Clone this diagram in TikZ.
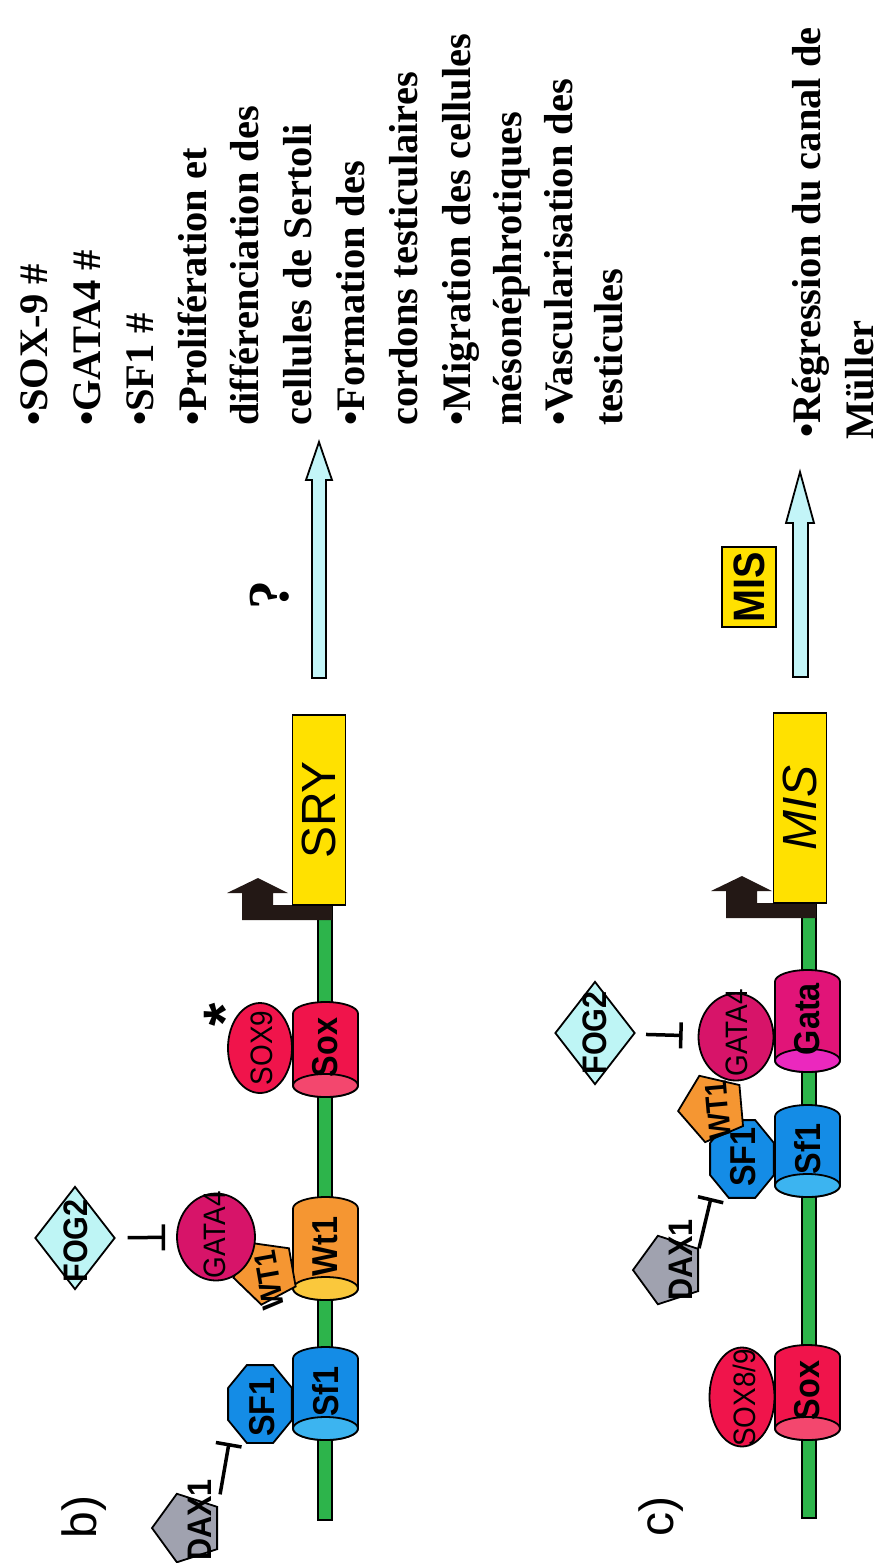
\documentclass[tikz,border=0pt]{standalone}
\usepackage{fontspec}
\setmainfont{Liberation Serif}
\newfontfamily\protfont[FakeStretch=0.9]{Liberation Sans}
\newfontfamily\genefont{Liberation Sans}
\usepackage{xcolor}
\definecolor{dnagreen}{HTML}{2DB44B}
\definecolor{sfblue}{HTML}{148CE6}
\definecolor{sfface}{HTML}{3CB4F0}
\definecolor{wtorange}{HTML}{F59632}
\definecolor{wtface}{HTML}{FAC83C}
\definecolor{soxred}{HTML}{F0144B}
\definecolor{soxface}{HTML}{F3476E}
\definecolor{gatamag}{HTML}{E11478}
\definecolor{gataface}{HTML}{EB28BE}
\definecolor{gatapink}{HTML}{D71469}
\definecolor{daxgrey}{HTML}{A0A2AF}
\definecolor{fogcyan}{HTML}{BEF5F5}
\definecolor{arrowcyan}{HTML}{C3F5F8}
\definecolor{geneyellow}{HTML}{FFE100}
\definecolor{promdark}{HTML}{231815}
\usepackage{tikz}
\usetikzlibrary{shapes.geometric,arrows.meta}

% binding site on the DNA: name, x, top, bottom, body, face, label
\newcommand{\cylsite}[7]{%
  \filldraw[outl, fill=#5] (#2-32.5,#3+11.5) -- (#2-32.5,#4-11.5)
    arc[start angle=180, end angle=0, x radius=32.5, y radius=11.5]
    -- (#2+32.5,#3+11.5)
    arc[start angle=0, end angle=-180, x radius=32.5, y radius=11.5] -- cycle;
  \filldraw[outl, fill=#6] (#2,#4-11.5) ellipse[x radius=32.5, y radius=11.5];
  \node[plbl] (#1) at (#2,{(#3+#4)/2-2}) {#7};}

\begin{document}
\begin{tikzpicture}[x=1pt, y=-1pt,
    every node/.style={rotate=90},
    outl/.style={draw=black, line width=1.8pt},
    prot/.style={outl, inner sep=0pt},
    octa/.style={prot, regular polygon, regular polygon sides=8,
      minimum size=69pt, xscale=1.22, fill=sfblue},
    penta/.style={prot, regular polygon, regular polygon sides=5},
    plbl/.style={inner sep=0pt, font=\protfont\bfseries\fontsize{36}{36}\selectfont},
    tag/.style={inner sep=0pt, font=\protfont\bfseries\fontsize{34}{34}\selectfont},
    small/.style={inner sep=0pt, font=\protfont\bfseries\fontsize{31}{31}\selectfont},
    pthin/.style={inner sep=0pt, font=\protfont\fontsize{31}{31}\selectfont},
    genebox/.style={outl, rectangle, fill=geneyellow, minimum width=190pt,
      minimum height=53pt, inner sep=0pt, font=\genefont\fontsize{48}{48}\selectfont},
    effect/.style={anchor=base west, inner sep=0pt,
      font=\bfseries\fontsize{40.5}{48}\selectfont},
    inhibit/.style={line width=3.5pt, -{Bar[width=26pt]}},
    panel/.style={inner sep=0pt, font=\genefont\fontsize{48}{48}\selectfont}]

  \fill[white] (0,0) rectangle (880,1563);
  \useasboundingbox (0,0) rectangle (880,1563);

  % DNA strands
  \filldraw[outl, fill=dnagreen] (318,905) rectangle (332,1520);
  \filldraw[outl, fill=dnagreen] (802,903) rectangle (816,1518);

  % transcription start
  \foreach \xd/\yd in {325/0, 809/-2}
    \fill[promdark, shift={(\xd,\yd)}] (7,920) -- (-83,920) -- (-83,893) -- (-98,893)
      -- (-67,878) -- (-37,893) -- (-52,893) -- (-52,905) -- (7,905) -- cycle;

  % genes
  \node[genebox] (sry) at (319,810) {SRY};
  \node[genebox] (mis) at (800,808) {\itshape MIS};

  % binding sites
  \cylsite{sfsiteB}{325.5}{1347}{1440}{sfblue}{sfface}{Sf1}
  \cylsite{wtsiteB}{325.5}{1197}{1300}{wtorange}{wtface}{Wt1}
  \cylsite{soxsiteB}{325.5}{1002}{1097}{soxred}{soxface}{Sox}
  \cylsite{soxsiteC}{807.5}{1345}{1440}{soxred}{soxface}{Sox}
  \cylsite{sfsiteC}{807.5}{1105}{1197}{sfblue}{sfface}{Sf1}
  \cylsite{gatasiteC}{807.5}{970}{1072}{gatamag}{gataface}{Gata}

  % b) factors
  \node[panel] (panB) at (84,1517) {b)};
  \node[octa] (sfB) at (260,1404) {};
  \node[plbl] (sfBl) at (262,1407) {SF1};
  \node[penta, minimum size=66pt, rotate=10, fill=wtorange] (wtB) at (266,1272) {};
  \node[small, rotate=10] (wtBl) at (269,1280) {WT1};
  \node[prot, ellipse, minimum width=87pt, minimum height=78pt, fill=gatapink] (gataB) at (216,1237) {};
  \node[pthin] (gataBl) at (215,1235) {GATA4};
  \node[prot, ellipse, minimum width=90pt, minimum height=64pt, fill=soxred] (soxB) at (260,1048) {};
  \node[pthin] (soxBl) at (262,1048) {SOX9};
  \node[inner sep=0pt, font=\genefont\bfseries\fontsize{60}{60}\selectfont] (star) at (225,1015) {*};
  \node[penta, minimum size=72pt, fill=daxgrey] (daxB) at (188,1528) {};
  \node[tag] (daxBl) at (200,1520) {DAX1};
  \node[prot, diamond, minimum width=103pt, minimum height=80pt, fill=fogcyan] (fogB) at (75,1238) {};
  \node[tag] (fogBl) at (76,1241) {FOG2};

  % b) repression
  \coordinate (sfBdock) at (229,1443);
  \draw[inhibit, shorten <=12pt] (daxB.corner 4) -- (sfBdock);
  \draw[inhibit, shorten <=12pt, shorten >=11pt] (fogB) -- (gataB);

  % c) factors
  \node[panel] (panC) at (661,1516) {c)};
  \node[octa] (sfC) at (742,1159) {};
  \node[penta, minimum size=70pt, rotate=5, fill=wtorange] (wtC) at (713,1108) {};
  \node[plbl] (sfCl) at (743,1157) {SF1};
  \node[small, rotate=5] (wtCl) at (718,1110) {WT1};
  \node[prot, ellipse, minimum width=87pt, minimum height=75pt, fill=gatapink] (gataC) at (736,1037) {};
  \node[pthin] (gataCl) at (737,1033) {GATA4};
  \node[prot, ellipse, minimum width=99pt, minimum height=65pt, fill=soxred] (soxC) at (742,1397) {};
  \node[pthin] (soxCl) at (744,1398) {SOX8/9};
  \node[penta, minimum size=72pt, fill=daxgrey] (daxC) at (669,1270) {};
  \node[tag] (daxCl) at (681,1260) {DAX1};
  \node[prot, diamond, minimum width=103pt, minimum height=80pt, fill=fogcyan] (fogC) at (595,1033) {};
  \node[tag] (fogCl) at (595,1033) {FOG2};

  % c) repression
  \coordinate (sfCdock) at (711,1198);
  \draw[inhibit] (daxC.corner 4) -- (sfCdock);
  \draw[inhibit, shorten <=11pt, shorten >=15pt] (fogC) -- (gataC);

  % outcome arrows
  \filldraw[outl, fill=arrowcyan, line join=miter] (312,678) -- (312,480) -- (306,480)
    -- (319,442) -- (332,480) -- (326,480) -- (326,678) -- cycle;
  \filldraw[outl, fill=arrowcyan, line join=miter] (793,677) -- (793,523) -- (786,523)
    -- (800,472) -- (814,523) -- (808,523) -- (808,677) -- cycle;
  \node[inner sep=0pt, font=\bfseries\fontsize{58}{58}\selectfont] (qmark) at (270,595) {?};
  \node[outl, fill=geneyellow, minimum width=80pt, minimum height=54pt, inner sep=0pt,
    font=\protfont\bfseries\fontsize{44}{44}\selectfont] (mislbl) at (749,587) {MIS};

  % effects
  \foreach \bx/\eff [count=\i] in {47/{•SOX-9 \#}, 100/{•GATA4 \#}, 153/{•SF1 \#},
      206/{•Prolifération et}, 258/{différenciation des}, 311/{cellules de Sertoli},
      364/{•Formation des}, 417/{cordons testiculaires}, 470/{•Migration des cellules},
      521/{mésonéphrotiques}, 572/{•Vascularisation des}, 622/{testicules}}
    \node[effect] (effB\i) at (\bx,426) {\eff};
  \node[effect] (effC1) at (820,438) {•Régression du canal de};
  \node[effect] (effC2) at (873,440) {Müller};
\end{tikzpicture}
\end{document}
